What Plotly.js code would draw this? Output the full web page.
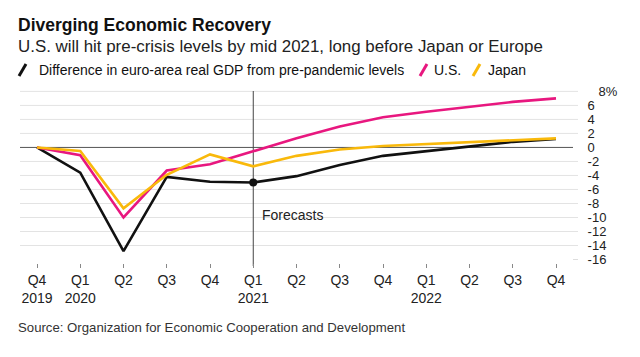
<!DOCTYPE html>
<html>
<head>
<meta charset="utf-8">
<script src="https://cdn.plot.ly/plotly-3.0.1.min.js"></script>
<style>html,body{margin:0;padding:0;background:#fff;}#chart{width:640px;height:357px;}</style>
</head>
<body>
<div id="chart"></div>
<script>
// ---- data ----
const quarters = ['Q4','Q1','Q2','Q3','Q4','Q1','Q2','Q3','Q4','Q1','Q2','Q3','Q4'];
const years    = ['2019','2020','','','','2021','','','','2022','','',''];
const euroArea = [0,-3.6,-14.8,-4.2,-4.9,-5.0,-4.1,-2.5,-1.2,-0.5,0.1,0.8,1.2];
const us       = [0,-1.1,-10.0,-3.3,-2.4,-0.5,1.3,3.0,4.3,5.1,5.8,6.5,7.0];
const japan    = [0,-0.5,-8.7,-3.9,-1.0,-2.7,-1.2,-0.3,0.2,0.5,0.7,1.0,1.3];
const yTicks   = [-16,-14,-12,-10,-8,-6,-4,-2,0,2,4,6,8];
const yTickLabels = ['-16','-14','-12','-10','-8','-6','-4','-2','0','2','4','6','8%'];
const forecastStart = 5; // Q1 2021
const seriesNames = ['Difference in euro-area real GDP from pre-pandemic levels','U.S.','Japan'];
const title = 'Diverging Economic Recovery';
const subtitle = 'U.S. will hit pre-crisis levels by mid 2021, long before Japan or Europe';
const source = 'Source: Organization for Economic Cooperation and Development';

// ---- style ----
const W = 640, H = 357;
const M = {l: 20, r: 62, t: 90, b: 94};
const pw = W - M.l - M.r, ph = H - M.t - M.b;
const px = x => (x - M.l) / pw;
const py = y => (H - M.b - y) / ph;
const FONT = 'Liberation Sans, Arial, sans-serif';
const BLACK = '#111111', PINK = '#e8177f', GOLD = '#f9b90b';
const colors = [BLACK, PINK, GOLD];

const idx = quarters.map((_, i) => i);

const traces = [
  {x: idx, y: euroArea, type: 'scatter', mode: 'lines', line: {color: BLACK, width: 2.6}, name: seriesNames[0], hoverinfo: 'skip'},
  {x: idx, y: us, type: 'scatter', mode: 'lines', line: {color: PINK, width: 2.6}, name: seriesNames[1], hoverinfo: 'skip'},
  {x: idx, y: japan, type: 'scatter', mode: 'lines', line: {color: GOLD, width: 2.6}, name: seriesNames[2], hoverinfo: 'skip'},
  {x: [forecastStart], y: [euroArea[forecastStart]], type: 'scatter', mode: 'markers', marker: {color: BLACK, size: 8}, hoverinfo: 'skip'}
];

const shapes = [];
yTicks.forEach(v => {
  if (v === 0) {
    shapes.push({type: 'line', layer: 'below', xref: 'paper', yref: 'y', x0: 0, x1: px(573), y0: v, y1: v, line: {color: '#555', width: 1}});
  } else if (v === yTicks[0]) {
    shapes.push({type: 'line', layer: 'below', xref: 'paper', yref: 'y', x0: px(573), x1: px(578), y0: v, y1: v, line: {color: '#ddd', width: 1}});
  } else {
    shapes.push({type: 'line', layer: 'below', xref: 'paper', yref: 'y', x0: 0, x1: 1, y0: v, y1: v, line: {color: '#e3e3e3', width: 1}});
  }
});
// forecast divider
shapes.push({type: 'line', layer: 'below', xref: 'x', yref: 'paper', x0: forecastStart, x1: forecastStart, y0: py(266), y1: py(91), line: {color: '#444', width: 1}});

// legend slashes
const legendX = [19, 420, 473];
const legendTextX = [37, 432, 486];
const legendY = 70;
legendX.forEach((x, i) => {
  shapes.push({type: 'line', xref: 'paper', yref: 'paper', x0: px(x), y0: py(legendY + 6), x1: px(x + 7), y1: py(legendY - 6), line: {color: colors[i], width: 3}});
});

const annotations = [
  {text: '<b>' + title + '</b>', xref: 'paper', yref: 'paper', x: px(16), y: py(25), xanchor: 'left', yanchor: 'middle', showarrow: false, font: {family: FONT, size: 17.5, color: '#111'}},
  {text: subtitle, xref: 'paper', yref: 'paper', x: px(16), y: py(46.5), xanchor: 'left', yanchor: 'middle', showarrow: false, font: {family: FONT, size: 16.9, color: '#222'}},
  {text: source, xref: 'paper', yref: 'paper', x: px(16), y: py(327), xanchor: 'left', yanchor: 'middle', showarrow: false, font: {family: FONT, size: 13.2, color: '#333'}},
  {text: 'Forecasts', xref: 'x', yref: 'y', x: forecastStart, xshift: 7, y: -9.7, xanchor: 'left', yanchor: 'middle', showarrow: false, font: {family: FONT, size: 14, color: '#222'}}
];
seriesNames.forEach((n, i) => {
  annotations.push({text: n, xref: 'paper', yref: 'paper', x: px(legendTextX[i]), y: py(legendY), xanchor: 'left', yanchor: 'middle', showarrow: false, font: {family: FONT, size: 14, color: '#111'}});
});

const layout = {
  width: W, height: H,
  margin: M,
  paper_bgcolor: '#fff', plot_bgcolor: 'rgba(0,0,0,0)',
  showlegend: false,
  font: {family: FONT, size: 14, color: '#222'},
  xaxis: {
    range: [(20 - 37) / 43.25, (578 - 37) / 43.25],
    tickvals: idx,
    ticktext: quarters.map((q, i) => q + '<br>' + years[i]),
    showgrid: false, zeroline: false, showline: false,
    ticks: 'outside', ticklen: 4, tickcolor: '#888', tickwidth: 1,
    tickfont: {family: FONT, size: 14, color: '#222'},
    fixedrange: true
  },
  yaxis: {
    side: 'right',
    range: [-16.5, 8.2],
    tickvals: yTicks,
    ticktext: yTickLabels.map((t, i) => i === yTickLabels.length - 1 ? '\u00a0\u00a0\u00a0' + t : t),
    showgrid: false, zeroline: false, showline: false,
    ticks: 'outside', ticklen: 6, tickcolor: 'rgba(0,0,0,0)',
    tickfont: {family: FONT, size: 13, color: '#222'},
    fixedrange: true
  },
  shapes: shapes,
  annotations: annotations
};

Plotly.newPlot('chart', traces, layout, {staticPlot: true, displayModeBar: false});
</script>
</body>
</html>
